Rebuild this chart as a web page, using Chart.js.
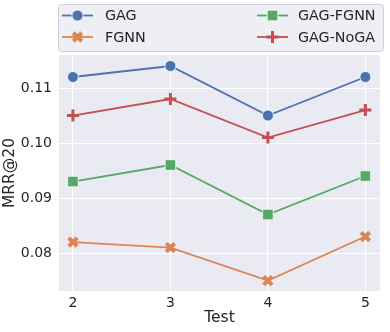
<!DOCTYPE html>
<html>
<head>
<meta charset="utf-8">
<script src="https://cdn.jsdelivr.net/npm/chart.js@4/dist/chart.umd.min.js"></script>
<style>
    html, body { margin: 0; padding: 0; background: #fff; }
    #wrap { width: 390px; height: 332px; }
</style>
</head>
<body>
<div id="wrap"><canvas id="c" width="390" height="332"></canvas></div>
<script>
// data
var tests = [2, 3, 4, 5];
var gag = [0.112, 0.114, 0.105, 0.112];
var fgnn = [0.082, 0.081, 0.075, 0.083];
var gagFgnn = [0.093, 0.096, 0.087, 0.094];
var gagNoga = [0.105, 0.108, 0.101, 0.106];
var yTicks = [0.08, 0.09, 0.10, 0.11];

var FONT = 'DejaVu Sans';
var TXT = '#262626';

function pts(vals) {
    return tests.map(function(t, i) { return {x: t, y: vals[i]}; });
}

function series(label, vals, color, style, r, bw, bc) {
    return {
        label: label,
        data: pts(vals),
        borderColor: color,
        backgroundColor: color,
        borderWidth: 1.8,
        pointStyle: style,
        pointRadius: r,
        pointHoverRadius: r,
        pointBackgroundColor: color,
        pointBorderColor: bc || color,
        pointBorderWidth: bw,
        tension: 0
    };
}

var datasets = [
    series('GAG', gag, '#4C72B0', 'circle', 5.5, 0.8, '#ffffff'),
    series('FGNN', fgnn, '#DD8452', 'crossRot', 6, 4),
    series('GAG-FGNN', gagFgnn, '#55A868', 'rect', 7.5, 0.8, '#ffffff'),
    series('GAG-NoGA', gagNoga, '#C44E52', 'cross', 6, 3)
];

// grey plot background
var bgPlugin = {
    id: 'bg',
    beforeDraw: function(chart) {
        var a = chart.chartArea, ctx = chart.ctx;
        ctx.save();
        ctx.fillStyle = '#EAEAF2';
        ctx.fillRect(a.left, a.top, a.right - a.left, a.bottom - a.top);
        ctx.restore();
    }
};

// two column legend box above the plot, seaborn style
var legendPlugin = {
    id: 'legend2',
    afterDraw: function(chart) {
        var ctx = chart.ctx;
        var x0 = 58.5, y0 = 4.5, w = 325, h = 47;
        ctx.save();
        ctx.beginPath();
        ctx.roundRect(x0, y0, w, h, 3);
        ctx.fillStyle = 'rgba(234,234,242,0.8)';
        ctx.fill();
        ctx.strokeStyle = '#d0d0d8';
        ctx.lineWidth = 1;
        ctx.stroke();

        var cols = [{lx: 62, tx: 105}, {lx: 257, tx: 298}];
        var rows = [15.5, 37];
        var order = [[0, 0], [0, 1], [1, 0], [1, 1]];
        chart.data.datasets.forEach(function(ds, i) {
            var c = cols[order[i][0]], y = rows[order[i][1]];
            ctx.strokeStyle = ds.borderColor;
            ctx.lineWidth = 1.8;
            ctx.beginPath();
            ctx.moveTo(c.lx, y);
            ctx.lineTo(c.lx + 31, y);
            ctx.stroke();
            ctx.fillStyle = ds.pointBackgroundColor;
            ctx.strokeStyle = ds.pointBorderColor;
            ctx.lineWidth = ds.pointBorderWidth;
            Chart.helpers.drawPoint(ctx, {pointStyle: ds.pointStyle, radius: ds.pointRadius, borderWidth: ds.pointBorderWidth, rotation: 0}, c.lx + 15.5, y);
            ctx.fillStyle = TXT;
            ctx.font = '14.3px "' + FONT + '"';
            ctx.textBaseline = 'middle';
            ctx.fillText(ds.label, c.tx, y + 1);
        });
        ctx.restore();
    }
};

new Chart(document.getElementById('c'), {
    type: 'line',
    data: {datasets: datasets},
    plugins: [bgPlugin, legendPlugin],
    options: {
        responsive: false,
        animation: false,
        layout: {padding: {top: 55, right: 7, left: 0, bottom: 0}},
        plugins: {legend: {display: false}, tooltip: {enabled: false}},
        scales: {
            x: {
                type: 'linear',
                min: 1.857,
                max: 5.15,
                afterBuildTicks: function(s) { s.ticks = tests.map(function(v) { return {value: v}; }); },
                afterFit: function(s) { s.height = 41; },
                grid: {color: '#ffffff', lineWidth: 1, drawTicks: false},
                border: {display: false},
                ticks: {color: TXT, font: {family: FONT, size: 14}, padding: 4,
                        callback: function(v) { return String(v); }},
                title: {display: true, text: 'Test', color: TXT, font: {family: FONT, size: 15.5}, padding: {top: 0, bottom: 4.5}}
            },
            y: {
                type: 'linear',
                min: 0.0731,
                max: 0.116,
                afterBuildTicks: function(s) { s.ticks = yTicks.map(function(v) { return {value: v}; }); },
                afterFit: function(s) { s.width = 59; },
                grid: {color: '#ffffff', lineWidth: 1, drawTicks: false},
                border: {display: false},
                ticks: {color: TXT, font: {family: FONT, size: 14}, padding: 7,
                        callback: function(v) { return v.toFixed(2); }},
                title: {display: true, text: 'MRR@20', color: TXT, font: {family: FONT, size: 15.5}, padding: {top: 1, bottom: 0}}
            }
        }
    }
});
</script>
</body>
</html>
